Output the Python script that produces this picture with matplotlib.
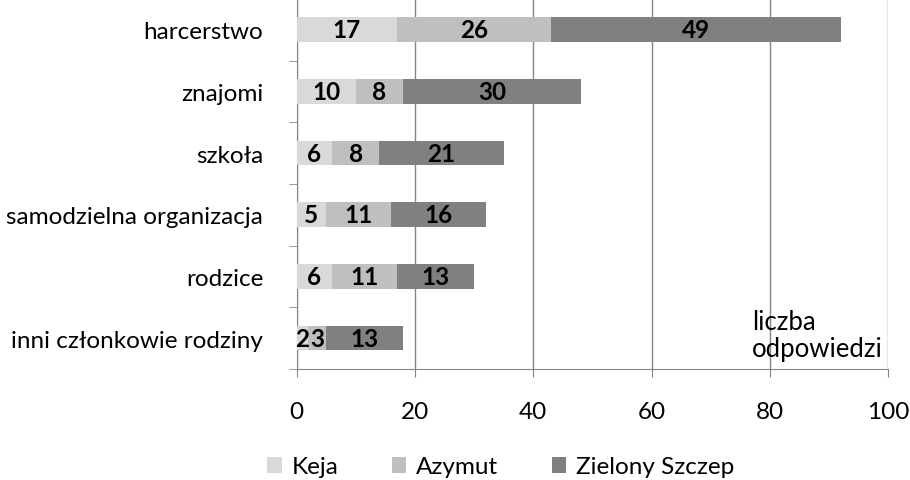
import numpy as np
import matplotlib.pyplot as plt

plt.rcParams['font.family'] = ['Lato', 'DejaVu Sans']

categories = ['harcerstwo', 'znajomi', 'szkoła', 'samodzielna organizacja',
              'rodzice', 'inni członkowie rodziny']
keja = [17, 10, 6, 5, 6, 2]
azymut = [26, 8, 8, 11, 11, 3]
zielony = [49, 30, 21, 16, 13, 13]
series_names = ['Keja', 'Azymut', 'Zielony Szczep']
colors = ['#d9d9d9', '#bfbfbf', '#808080']

fs = 17.5

fig = plt.figure(figsize=(9.1, 4.81), dpi=100)
ax = fig.add_axes([0.326, 0.231, 0.65, 0.769])

y = np.arange(len(categories))[::-1]
left = np.zeros(len(categories))
for vals, name, c in zip([keja, azymut, zielony], series_names, colors):
    vals = np.array(vals)
    ax.barh(y, vals, left=left, height=0.4, color=c, label=name, zorder=3)
    for yi, l, v in zip(y, left, vals):
        ax.text(l + v / 2, yi, str(v), ha='center', va='center',
                fontsize=fs, fontweight='bold', color='black', zorder=4)
    left = left + vals

ax.set_xlim(0, 100)
ax.set_ylim(-0.5, 5.5)
ax.set_xticks(range(0, 101, 20))
ax.set_yticks(y)
ax.set_yticklabels(categories)
ax.set_yticks(np.arange(-0.5, 6, 1), minor=True)
ax.tick_params(axis='y', which='major', length=0, pad=24, labelsize=fs)
ax.tick_params(axis='y', which='minor', length=6, color='#868686', direction='out')
ax.tick_params(axis='x', length=6, color='#868686', labelsize=fs, pad=17)
ax.grid(axis='x', color='#868686', linewidth=1, zorder=0)
for s in ['top', 'right']:
    ax.spines[s].set_visible(False)
for s in ['left', 'bottom']:
    ax.spines[s].set_color('#868686')

ax.text(77, 0.05, 'liczba\nodpowiedzi', fontsize=fs + 1, ha='left', va='center',
        linespacing=1.1, zorder=5)

ax.legend(loc='center', bbox_to_anchor=(0.345, -0.265), ncol=3,
          frameon=False, fontsize=fs, handlelength=0.6, handleheight=0.6,
          columnspacing=2.2, handletextpad=0.4)

fig.savefig('out.png', dpi=100)
